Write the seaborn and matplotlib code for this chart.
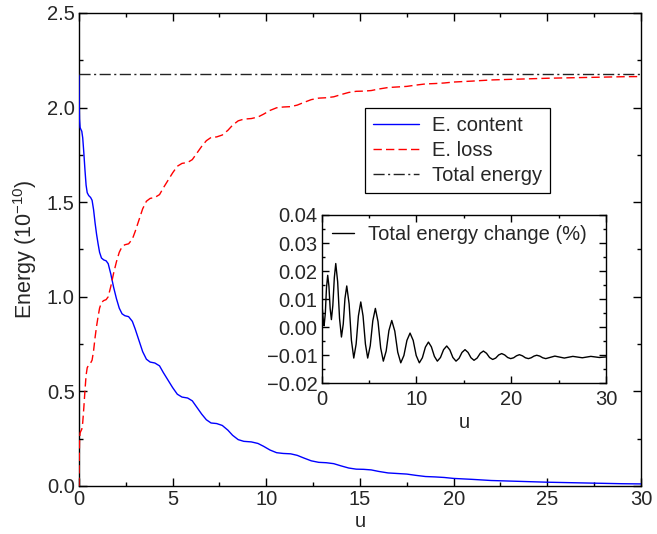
import numpy as np
import pandas as pd
import matplotlib
matplotlib.use("Agg")
import matplotlib.pyplot as plt
import seaborn as sns

# ---------------- data ----------------
u_main = [0.00, 0.01, 0.03, 0.06, 0.10, 0.15, 0.20, 0.26, 0.32, 0.38, 0.44, 0.52,
          0.62, 0.70, 0.78, 0.86, 0.94, 1.02, 1.10, 1.20, 1.32, 1.45, 1.56, 1.70,
          1.85, 2.00, 2.15, 2.30, 2.45, 2.65, 2.85, 3.00, 3.20, 3.40, 3.60, 3.80,
          4.05, 4.30, 4.50, 4.75, 5.00, 5.25, 5.50, 5.80, 6.05, 6.30, 6.55, 6.80,
          7.05, 7.35, 7.65, 7.95, 8.20, 8.50, 8.80, 9.20, 9.55, 9.85, 10.20, 10.55,
          10.90, 11.30, 11.65, 12.00, 12.40, 12.80, 13.20, 13.60, 14.00, 14.40,
          14.80, 15.20, 15.60, 16.00, 16.50, 17.00, 17.50, 18.00, 18.50, 19.00,
          19.50, 20.00, 21.00, 22.00, 23.00, 24.00, 25.00, 26.00, 27.00, 28.00,
          29.00, 30.00]

e_content = [2.170, 2.050, 1.940, 1.895, 1.885, 1.875, 1.840, 1.760, 1.670, 1.590,
             1.550, 1.535, 1.525, 1.510, 1.460, 1.390, 1.330, 1.280, 1.235, 1.205,
             1.195, 1.190, 1.175, 1.120, 1.050, 0.990, 0.940, 0.910, 0.900, 0.895,
             0.870, 0.830, 0.770, 0.710, 0.670, 0.655, 0.650, 0.635, 0.600, 0.560,
             0.520, 0.485, 0.470, 0.465, 0.450, 0.415, 0.380, 0.350, 0.333, 0.330,
             0.320, 0.295, 0.268, 0.245, 0.236, 0.233, 0.225, 0.210, 0.190, 0.176,
             0.172, 0.170, 0.162, 0.148, 0.133, 0.125, 0.123, 0.118, 0.106, 0.095,
             0.089, 0.088, 0.085, 0.077, 0.069, 0.066, 0.063, 0.056, 0.050, 0.048,
             0.045, 0.040, 0.035, 0.029, 0.026, 0.023, 0.020, 0.018, 0.016, 0.014,
             0.012, 0.011]

e_loss = [0.000, 0.120, 0.235, 0.280, 0.290, 0.300, 0.335, 0.415, 0.505, 0.585,
          0.625, 0.640, 0.650, 0.665, 0.715, 0.785, 0.845, 0.895, 0.940, 0.970,
          0.980, 0.985, 1.000, 1.055, 1.125, 1.185, 1.235, 1.265, 1.275, 1.280,
          1.305, 1.345, 1.405, 1.465, 1.505, 1.520, 1.525, 1.540, 1.575, 1.615,
          1.655, 1.690, 1.705, 1.710, 1.725, 1.760, 1.795, 1.825, 1.842, 1.845,
          1.855, 1.880, 1.907, 1.930, 1.939, 1.942, 1.950, 1.965, 1.985, 1.999,
          2.003, 2.005, 2.013, 2.027, 2.042, 2.050, 2.052, 2.057, 2.069, 2.080,
          2.086, 2.087, 2.090, 2.098, 2.106, 2.109, 2.112, 2.119, 2.125, 2.127,
          2.130, 2.135, 2.140, 2.146, 2.149, 2.152, 2.155, 2.157, 2.159, 2.161,
          2.163, 2.164]

total_energy = 2.175

u_inset = [0.00, 0.08, 0.17, 0.25, 0.38, 0.50, 0.63, 0.76, 0.89, 1.02, 1.17, 1.33,
           1.48, 1.68, 1.88, 2.08, 2.27, 2.45, 2.64, 2.89, 3.13, 3.38, 3.63, 3.87,
           4.12, 4.36, 4.61, 4.85, 5.12, 5.39, 5.66, 5.94, 6.22, 6.50, 6.80, 7.09,
           7.39, 7.71, 8.02, 8.34, 8.67, 8.99, 9.32, 9.65, 9.97, 10.30, 10.62, 10.94,
           11.26, 11.57, 11.89, 12.20, 12.53, 12.86, 13.19, 13.52, 13.84, 14.17,
           14.49, 14.80, 15.12, 15.44, 15.75, 16.07, 16.40, 16.73, 17.06, 17.39,
           17.71, 18.04, 18.36, 18.67, 18.99, 19.31, 19.62, 19.94, 20.25, 20.55,
           20.86, 21.18, 21.49, 21.81, 22.10, 22.40, 22.69, 23.01, 23.32, 23.64,
           24.60, 25.60, 26.50, 27.50, 28.40, 29.30, 30.00]

e_change = [0.0080, 0.0061, 0.0024, 0.0005, 0.0050, 0.0140, 0.0185, 0.0146, 0.0066,
            0.0027, 0.0077, 0.0177, 0.0227, 0.0162, 0.0031, -0.0035, 0.0011, 0.0102,
            0.0147, 0.0083, -0.0046, -0.0110, -0.0060, 0.0040, 0.0090, 0.0040,
            -0.0060, -0.0110, -0.0066, 0.0023, 0.0067, 0.0020, -0.0074, -0.0121,
            -0.0085, -0.0012, 0.0024, -0.0014, -0.0089, -0.0127, -0.0101, -0.0047,
            -0.0021, -0.0047, -0.0101, -0.0127, -0.0109, -0.0071, -0.0053, -0.0070,
            -0.0104, -0.0121, -0.0108, -0.0080, -0.0067, -0.0081, -0.0108, -0.0121,
            -0.0111, -0.0090, -0.0080, -0.0090, -0.0109, -0.0118, -0.0110, -0.0093,
            -0.0085, -0.0093, -0.0108, -0.0115, -0.0110, -0.0099, -0.0094, -0.0099,
            -0.0108, -0.0112, -0.0109, -0.0102, -0.0098, -0.0102, -0.0109, -0.0112,
            -0.0109, -0.0103, -0.0100, -0.0103, -0.0109, -0.0112, -0.0103, -0.0110,
            -0.0104, -0.0109, -0.0104, -0.0108, -0.0106]

main_xticks = [0, 5, 10, 15, 20, 25, 30]
main_yticks = [0.0, 0.5, 1.0, 1.5, 2.0, 2.5]
main_yticklabels = ["0.0", "0.5", "1.0", "1.5", "2.0", "2.5"]
inset_xticks = [0, 10, 20, 30]
inset_yticks = [-0.02, -0.01, 0.00, 0.01, 0.02, 0.03, 0.04]
inset_yticklabels = ["\u22120.02", "\u22120.01", "0.00", "0.01", "0.02", "0.03", "0.04"]

# ---------------- style ----------------
sns.set_style("ticks")
plt.rcParams["font.family"] = ["Liberation Sans", "DejaVu Sans"]
plt.rcParams["mathtext.fontset"] = "custom"
plt.rcParams["mathtext.rm"] = "Liberation Sans"
plt.rcParams["mathtext.it"] = "Liberation Sans:italic"

TICK_FS = 14.5
LEG_FS = 14.5

df_main = pd.DataFrame({"u": u_main, "content": e_content, "loss": e_loss})
df_inset = pd.DataFrame({"u": u_inset, "change": e_change})

fig = plt.figure(figsize=(6.57, 5.34), dpi=100)
ax = fig.add_axes([0.1202, 0.0899, 0.8554, 0.8858])

sns.lineplot(data=df_main, x="u", y="content", ax=ax, color="#0000ff", lw=1.0,
             label="E. content", sort=False, zorder=3)
sns.lineplot(data=df_main, x="u", y="loss", ax=ax, color="#ff0000", lw=1.0,
             linestyle=(0, (6, 3)), label="E. loss", sort=False, zorder=3)
ax.axhline(total_energy, color="#222222", lw=1.0, linestyle=(0, (8, 2.5, 1.5, 2.5)),
           label="Total energy", zorder=3)

ax.set_xlim(0, 30)
ax.set_ylim(0, 2.5)
ax.set_xticks(main_xticks)
ax.set_yticks(main_yticks)
ax.set_yticklabels(main_yticklabels)
ax.set_xticks(np.arange(0, 30.1, 2.5), minor=True)
ax.set_yticks(np.arange(0, 2.51, 0.25), minor=True)
ax.tick_params(which="both", direction="in", top=True, right=True,
               labelsize=TICK_FS, color="black", pad=3)
ax.tick_params(which="major", length=6, width=1)
ax.tick_params(which="minor", length=3, width=1)
for s in ax.spines.values():
    s.set_color("black")
    s.set_linewidth(1.0)
ax.set_xlabel("u", fontsize=14.5, labelpad=2)
ax.set_ylabel("Energy (10$^{-10}$)", fontsize=15.5, labelpad=6)

leg = ax.legend(loc="upper left", bbox_to_anchor=(0.509, 0.7985), borderaxespad=0,
                fontsize=LEG_FS, frameon=True, fancybox=False, handlelength=2.3,
                handletextpad=0.63, labelspacing=0.3, borderpad=0.4)
leg.get_frame().set_edgecolor("black")
leg.get_frame().set_linewidth(0.9)
leg.get_frame().set_alpha(1)

# ---------------- inset ----------------
axi = fig.add_axes([0.4897, 0.2822, 0.4327, 0.3152])
sns.lineplot(data=df_inset, x="u", y="change", ax=axi, color="black", lw=1.0,
             label="Total energy change (%)", sort=False, zorder=3)
axi.set_xlim(0, 30)
axi.set_ylim(-0.02, 0.04)
axi.set_xticks(inset_xticks)
axi.set_yticks(inset_yticks)
axi.set_yticklabels(inset_yticklabels)
axi.set_xticks(np.arange(0, 30.1, 5), minor=True)
axi.set_yticks(np.arange(-0.02, 0.0401, 0.005), minor=True)
axi.tick_params(which="both", direction="in", top=True, right=True,
                labelsize=TICK_FS, color="black", pad=3)
axi.tick_params(axis="x", which="major", pad=5)
axi.tick_params(which="major", length=5, width=1)
axi.tick_params(which="minor", length=2.5, width=1)
for s in axi.spines.values():
    s.set_color("black")
    s.set_linewidth(1.0)
axi.set_xlabel("u", fontsize=14.5, labelpad=3)
axi.set_ylabel("")
axi.legend(loc="upper left", frameon=False, fontsize=LEG_FS, handlelength=1.1,
           handletextpad=0.7, borderaxespad=0.2, borderpad=0.3)

fig.savefig("out.png", dpi=100)
